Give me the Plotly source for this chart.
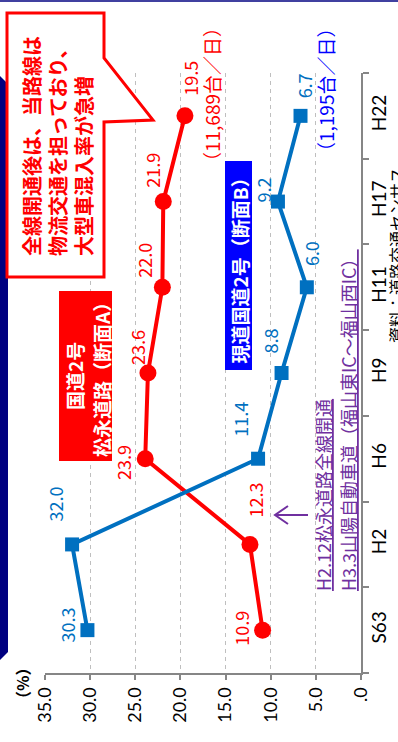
import plotly.graph_objects as go

# Survey years (category axis) and share of large vehicles (%)
years = ["S63", "H2", "H6", "H9", "H11", "H17", "H22"]
route_a = [10.9, 12.3, 23.9, 23.6, 22.0, 21.9, 19.5]   # 国道2号 松永道路（断面A）
route_b = [30.3, 32.0, 11.4, 8.8, 6.0, 9.2, 6.7]       # 現道国道2号（断面B）
pct_ticks = [35, 30, 25, 20, 15, 10, 5, 0]
pct_tick_text = ["35.0", "30.0", "25.0", "20.0", "15.0", "10.0", "5.0", ".0"]

# pixel offsets of each value label from its marker
a_label_shift = [(-21, 2), (5, 45), (-23, -4), (-11, 26), (-18, 27), (-12, 31), (5, 38)]
b_label_shift = [(-20, 5), (-17, 40), (-18, 39), (-12, 32), (4, 34), (-15, 12), (3, 30)]

RED = "#FF0000"
BLUE = "#0070C0"
PURE_BLUE = "#0000FF"
PURPLE = "#7030A0"
AXIS = "#868686"
JP = "Noto Sans CJK JP"

W, H = 398, 742
L, R, T, B = 45, 37, 73, 69


def px(x):
    return (x - L) / (W - L - R)


def py(y):
    return (H - B - y) / (H - T - B)


fig = go.Figure()

fig.add_trace(go.Scatter(
    x=route_a, y=years, mode="lines+markers",
    line=dict(color=RED, width=4),
    marker=dict(symbol="circle", size=17, color=RED),
    cliponaxis=False, showlegend=False,
))
fig.add_trace(go.Scatter(
    x=route_b, y=years, mode="lines+markers",
    line=dict(color=BLUE, width=4),
    marker=dict(symbol="square", size=14, color=BLUE),
    cliponaxis=False, showlegend=False,
))

# value labels
for i, v in enumerate(route_a):
    dx, dy = a_label_shift[i]
    fig.add_annotation(x=v, y=i, xref="x", yref="y", text=f"{v:.1f}",
                       showarrow=False, textangle=-90, xshift=dx, yshift=dy,
                       font=dict(family=JP, size=18, color=RED))
for i, v in enumerate(route_b):
    dx, dy = b_label_shift[i]
    fig.add_annotation(x=v, y=i, xref="x", yref="y", text=f"{v:.1f}",
                       showarrow=False, textangle=-90, xshift=dx, yshift=dy,
                       font=dict(family=JP, size=18, color=BLUE))


def note(text, xc, yc, size, color, bold=False, xanchor="center", yanchor="middle", align="center"):
    fig.add_annotation(x=px(xc), y=py(yc), xref="paper", yref="paper", text=text,
                       showarrow=False, textangle=-90, xanchor=xanchor, yanchor=yanchor,
                       align=align,
                       font=dict(family=JP, size=size, color=color,
                                 weight="bold" if bold else "normal"))


def rect(x0, y0, x1, y1, color):
    fig.add_shape(type="rect", xref="paper", yref="paper",
                  x0=px(x0), x1=px(x1), y0=py(y0), y1=py(y1),
                  fillcolor=color, line=dict(width=0), layer="above")


def path(points, close=False):
    d = "M " + " L ".join(f"{px(a):.5f},{py(b):.5f}" for a, b in points)
    return d + (" Z" if close else "")


# slide decorations
fig.add_shape(type="rect", xref="paper", yref="paper", x0=px(0), x1=px(398),
              y0=py(0), y1=py(2), fillcolor="#4040A0", line=dict(width=0), layer="above")
nav = [(-30, 72), (-4, 72), (8, 84), (8, 652), (-4, 664), (-30, 664)]
fig.add_shape(type="path", xref="paper", yref="paper", path=path(nav, True),
              fillcolor="#000080", line=dict(width=0), layer="above")

# callout
callout = [(7, 13), (104, 13), (104, 58), (153, 120), (104, 122), (104, 277), (7, 277)]
fig.add_shape(type="path", xref="paper", yref="paper", path=path(callout, True),
              fillcolor="white", line=dict(color=RED, width=3), layer="above")
note("全線開通後は、当路線は<br>物流交通を担っており、<br>大型車混入率が急増",
     57, 258, 20, RED, bold=True, yanchor="bottom", align="left")

# series name boxes
rect(59, 291, 112, 461, RED)
note("国道2号", 74, 376, 19, "white", bold=True)
note("松永道路（断面A）", 101, 375, 19, "white", bold=True)

rect(225, 161, 252, 370, PURE_BLUE)
note("現道国道2号（断面B）", 238.5, 266, 19, "white", bold=True)

# daily traffic volumes
note("（11,689台／日）", 212, 95, 19, RED)
note("（1,195台／日）", 325, 90, 19, PURE_BLUE)

# events
note("<u>H2.12松永道路全線開通</u>", 323, 593, 18, PURPLE, yanchor="bottom")
note("<u>H3.3山陽自動車道（福山東IC～福山西IC）</u>", 348, 593, 18, PURPLE, yanchor="bottom")
fig.add_shape(type="path", xref="paper", yref="paper",
              path=path([(308, 515), (275, 515)]) + " " + path([(288, 506), (275, 515), (288, 524)]),
              line=dict(color=PURPLE, width=2), layer="above")

# unit and source
note("（%）", 22, 684, 16, "black", bold=True)
note("資料：道路交通センサス", 396, 345, 16, "black", yanchor="bottom")

fig.update_xaxes(
    range=[35, 0], tickvals=pct_ticks, ticktext=pct_tick_text, tickangle=-90,
    showgrid=True, gridcolor="#BFBFBF", griddash="4px,4px", gridwidth=1,
    zeroline=False, showline=True, linecolor=AXIS, linewidth=2,
    ticks="outside", ticklen=5, tickcolor=AXIS, tickwidth=1.5,
    tickfont=dict(family="Lato", size=18, color="black"),
)
fig.update_yaxes(
    type="category", categoryorder="array", categoryarray=years,
    range=[-0.5, 6.5], side="right", tickangle=-90, tickson="boundaries",
    showgrid=False, zeroline=False, showline=True, linecolor=AXIS, linewidth=2,
    ticks="outside", ticklen=6, tickcolor=AXIS, tickwidth=1.5,
    tickfont=dict(family="Lato", size=19, color="black"),
)

fig.update_layout(
    width=W, height=H, margin=dict(l=L, r=R, t=T, b=B, autoexpand=False),
    paper_bgcolor="white", plot_bgcolor="white",
)

fig.write_html("out.html")
